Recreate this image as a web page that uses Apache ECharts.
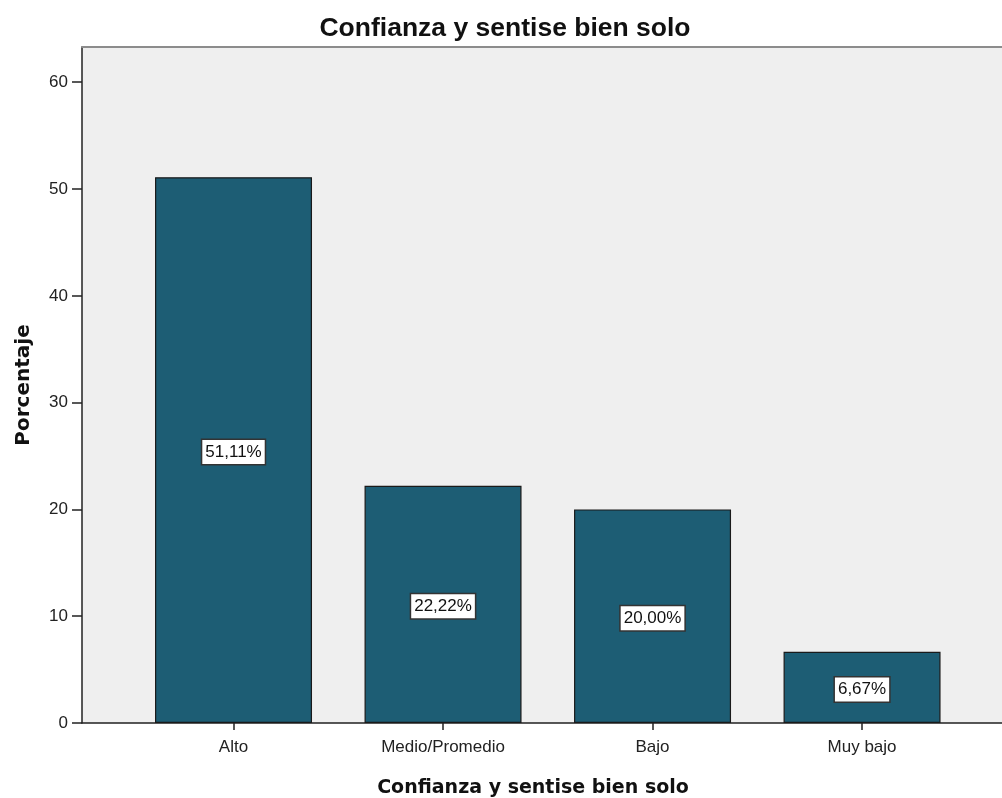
<!DOCTYPE html>
<html>
<head>
<meta charset="utf-8">
<script src="https://cdn.jsdelivr.net/npm/echarts@6/dist/echarts.min.js"></script>
<style>html,body{margin:0;padding:0;background:#fff;}#c{width:1002px;height:798px;}</style>
</head>
<body>
<div id="c"></div>
<script>
const categories = ['Alto', 'Medio/Promedio', 'Bajo', 'Muy bajo'];
const percentages = [51.11, 22.22, 20.00, 6.67];
const yTicks = [0, 10, 20, 30, 40, 50, 60];
const chartTitle = 'Confianza y sentise bien solo';
const xTitle = 'Confianza y sentise bien solo';
const yTitle = 'Porcentaje';

const chart = echarts.init(document.getElementById('c'), null, {renderer: 'canvas'});
const catIdx = categories.map((c, i) => i);
const xMin = -0.7232, xMax = 3.668;
const option = {
  animation: false,
  backgroundColor: '#ffffff',
  title: {
    text: chartTitle,
    left: 500,
    textAlign: 'center',
    top: 10,
    textStyle: {fontFamily: 'Liberation Sans', fontWeight: 'bold', fontSize: 26.5, color: '#111'}
  },
  grid: {
    left: 82, right: 0, top: 47, bottom: 75,
    outerBoundsMode: 'none',
    containLabel: false,
    show: true, backgroundColor: '#efefef', borderWidth: 0
  },
  xAxis: [{
    type: 'value',
    min: xMin, max: xMax,
    splitLine: {show: false},
    axisLine: {show: true, onZero: false, lineStyle: {color: '#222', width: 1.5}},
    axisTick: {show: true, customValues: catIdx, length: 7, lineStyle: {color: '#222', width: 1.5}},
    axisLabel: {
      customValues: catIdx,
      formatter: v => categories[Math.round(v)],
      fontFamily: 'Liberation Sans', fontSize: 17, color: '#222', margin: 16
    },
    name: xTitle,
    nameLocation: 'middle',
    nameGap: 56,
    nameTextStyle: {fontFamily: 'DejaVu Sans', fontWeight: 'bold', fontSize: 19, color: '#111', padding: [0, 18, 0, 0]}
  }, {
    type: 'value',
    position: 'top',
    min: xMin, max: xMax,
    splitLine: {show: false},
    axisLine: {show: true, onZero: false, lineStyle: {color: '#8c8c8c', width: 2}},
    axisTick: {show: false},
    axisLabel: {show: false}
  }],
  yAxis: {
    type: 'value',
    min: 0, max: 63.3,
    splitLine: {show: false},
    axisLine: {show: true, onZero: false, lineStyle: {color: '#222', width: 1.5}},
    axisTick: {show: true, customValues: yTicks, length: 10, lineStyle: {color: '#222', width: 1.5}},
    axisLabel: {customValues: yTicks, fontFamily: 'Liberation Sans', fontSize: 17, color: '#222', margin: 14},
    name: yTitle,
    nameLocation: 'middle',
    nameRotate: 90,
    nameGap: 48,
    nameTextStyle: {fontFamily: 'DejaVu Sans', fontWeight: 'bold', fontSize: 20, color: '#111'}
  },
  series: [{
    type: 'bar',
    xAxisIndex: 0,
    barWidth: 157,
    data: percentages.map((v, i) => [i, v]),
    itemStyle: {color: '#1d5d74', borderColor: '#1a1a1a', borderWidth: 1.2},
    label: {
      show: true,
      position: 'inside',
      offset: [0, 2],
      formatter: p => p.value[1].toFixed(2).replace('.', ',') + '%',
      fontFamily: 'Liberation Sans', fontSize: 17, color: '#111',
      backgroundColor: '#ffffff', borderColor: '#333', borderWidth: 1.5,
      padding: [4, 3, 3, 3]
    }
  }]
};
chart.setOption(option);
</script>
</body>
</html>
